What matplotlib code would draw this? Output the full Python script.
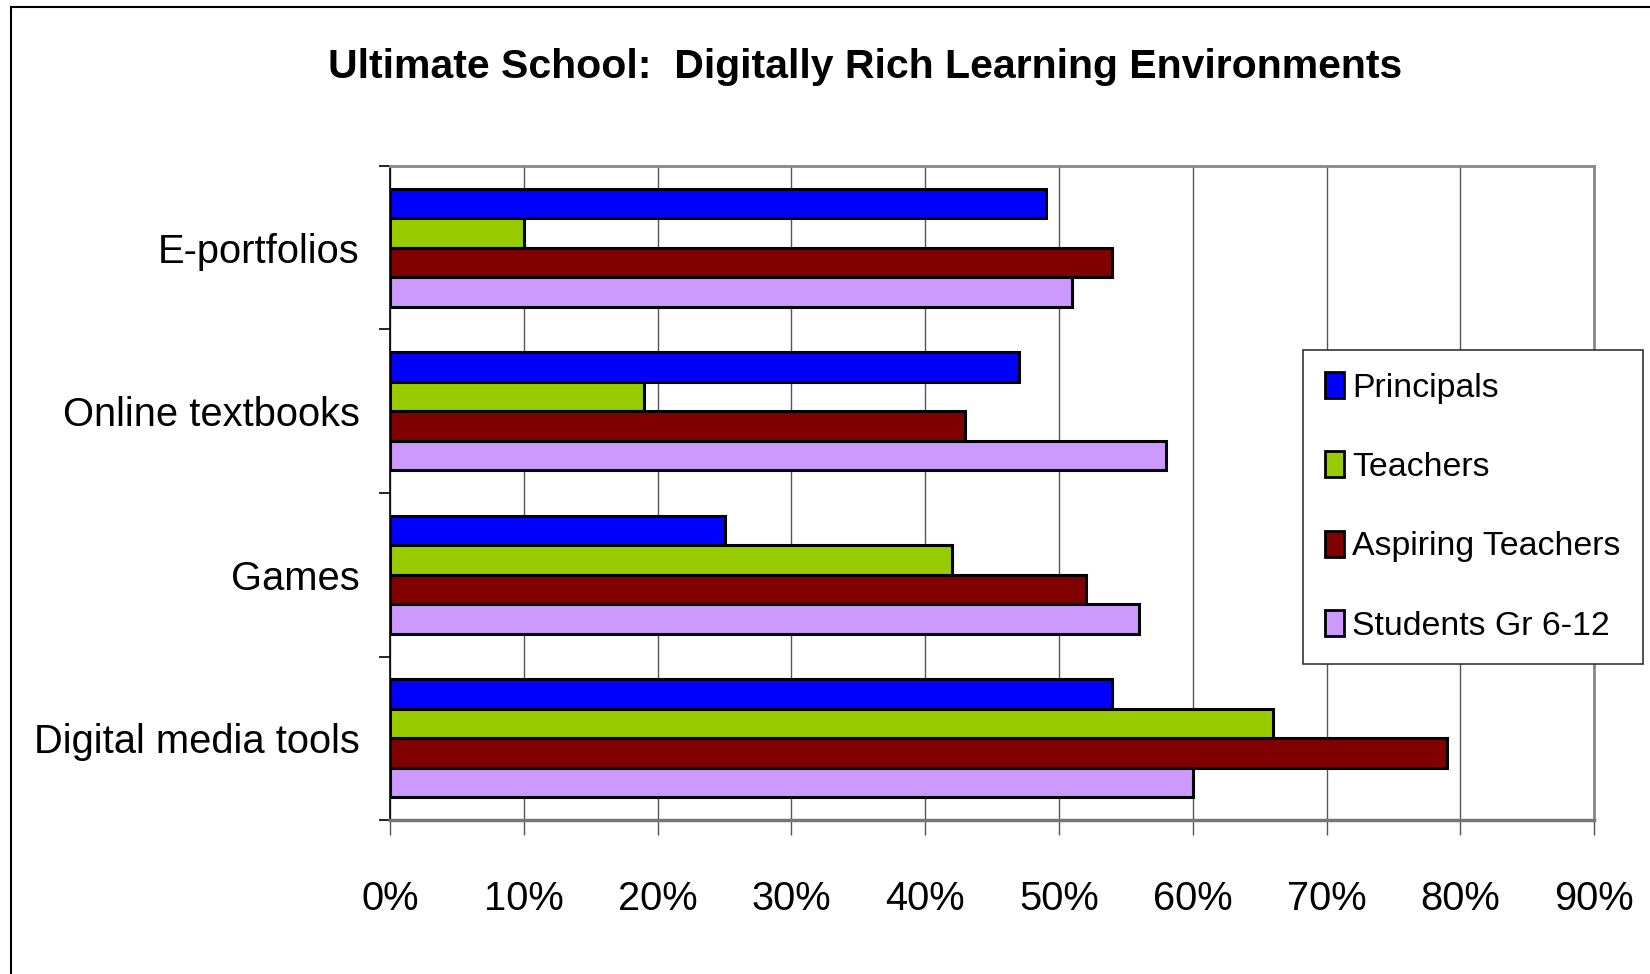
import matplotlib
matplotlib.use('Agg')
import matplotlib.pyplot as plt
from matplotlib import font_manager
from matplotlib.patches import Patch
from matplotlib.lines import Line2D
import numpy as np

# data (percent)
categories = ['E-portfolios', 'Online textbooks', 'Games', 'Digital media tools']
series_names = ['Principals', 'Teachers', 'Aspiring Teachers', 'Students Gr 6-12']
principals = [49, 47, 25, 54]
teachers = [10, 19, 42, 66]
aspiring = [54, 43, 52, 79]
students = [51, 58, 56, 60]
colors = ['#0000ff', '#99cc00', '#800000', '#cc99ff']
xticks = [0, 10, 20, 30, 40, 50, 60, 70, 80, 90]

# narrow font if there is one
names = set(f.name for f in font_manager.fontManager.ttflist)
if 'Liberation Sans Narrow' in names:
    fam = 'Liberation Sans Narrow'
    scale = 1.0
else:
    fam = 'Liberation Sans'
    scale = 0.82
plt.rcParams['font.family'] = [fam, 'DejaVu Sans']

fig = plt.figure(figsize=(16.5, 9.74), dpi=100)
ax = fig.add_axes([0.2364, 0.1581, 0.7297, 0.6715])

all_vals = [principals, teachers, aspiring, students]
h = 0.18
y = np.arange(len(categories))
for i, (vals, c, name) in enumerate(zip(all_vals, colors, series_names)):
    ax.barh(y + (i - 1.5) * h, vals, height=h, color=c, edgecolor='black',
            linewidth=2.2, label=name, zorder=3)

ax.set_xlim(0, 90)
ax.set_ylim(-0.5, 3.5)
ax.invert_yaxis()

ax.set_xticks(xticks)
ax.set_xticklabels(['%d%%' % v for v in xticks], fontsize=35 * scale)
ax.set_yticks(y)
ax.set_yticklabels(categories, fontsize=35 * scale)
ax.set_yticks(np.arange(-0.5, 4, 1), minor=True)
ax.tick_params(axis='y', which='major', length=0, pad=22)
ax.tick_params(axis='y', which='minor', length=8, width=1.2, color='black')
ax.tick_params(axis='x', length=11, width=1, color='#555555', pad=32)

ax.grid(axis='x', color='#555555', linewidth=1, zorder=0)
for s in ['top', 'right']:
    ax.spines[s].set_color('#888888')
    ax.spines[s].set_linewidth(2)
ax.spines['bottom'].set_color('#777777')
ax.spines['bottom'].set_linewidth(2.5)
ax.spines['left'].set_color('black')
ax.spines['left'].set_linewidth(1.2)

fig.text(0.524, 0.931, 'Ultimate School:  Digitally Rich Learning Environments',
         ha='center', va='center', fontsize=36 * scale, fontweight='bold')

handles = [Patch(facecolor=c, edgecolor='black', linewidth=2) for c in colors]
leg = fig.legend(handles, series_names, loc='upper left',
                 bbox_to_anchor=(0.7897, 0.6407), fontsize=29.8 * scale,
                 frameon=True, fancybox=False, framealpha=1, edgecolor='#333333',
                 handlelength=0.55, handleheight=0.8, handletextpad=0.25,
                 labelspacing=1.4, borderpad=0.65, borderaxespad=0)
leg.get_frame().set_linewidth(1.2)

# outer chart border
fig.add_artist(Line2D([11 / 1650, 11 / 1650], [0, 1 - 7 / 974], color='black', lw=1.5,
                      transform=fig.transFigure))
fig.add_artist(Line2D([11 / 1650, 1], [1 - 7 / 974, 1 - 7 / 974], color='black', lw=1.5,
                      transform=fig.transFigure))

fig.savefig('out.png', dpi=100)
